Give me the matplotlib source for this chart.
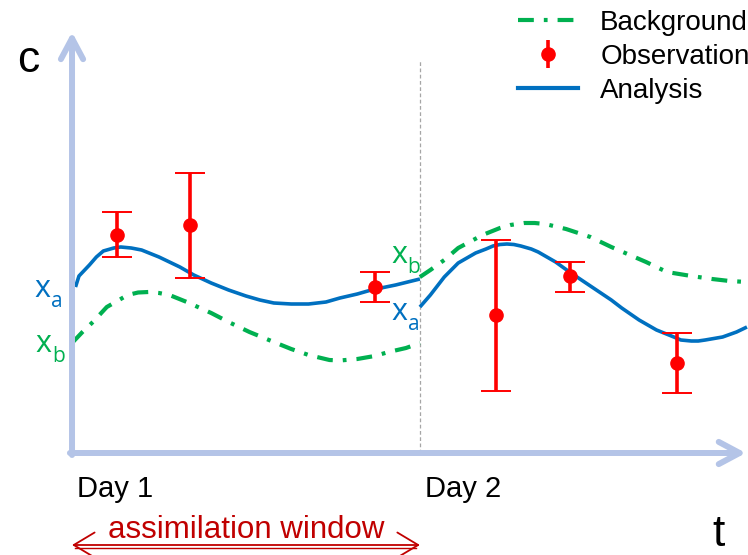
"""
Schematic of a data-assimilation window: background and analysis
trajectories over two days, with observations and their error bars.
"""

import matplotlib
matplotlib.use("Agg")
import matplotlib.pyplot as plt
from matplotlib.lines import Line2D

# -------------------------------------------------
# Data (time in days, concentration in arbitrary units)
# -------------------------------------------------

analysis_t1 = [0.01, 0.02, 0.05, 0.07, 0.09, 0.12, 0.14, 0.17, 0.20, 0.25, 0.31,
               0.35, 0.40, 0.45, 0.50, 0.54, 0.58, 0.63, 0.68, 0.73, 0.77, 0.82,
               0.86, 0.93, 1.00]
analysis_c1 = [1.66, 1.77, 1.88, 1.96, 2.02, 2.05, 2.06, 2.05, 2.03, 1.96, 1.86,
               1.78, 1.70, 1.63, 1.57, 1.53, 1.50, 1.49, 1.49, 1.51, 1.55, 1.59,
               1.63, 1.68, 1.74]

analysis_t2 = [1.00, 1.03, 1.07, 1.11, 1.16, 1.19, 1.21, 1.23, 1.25, 1.27, 1.29,
               1.32, 1.34, 1.39, 1.43, 1.49, 1.55, 1.58, 1.63, 1.68, 1.73, 1.75,
               1.78, 1.80, 1.82, 1.87, 1.91, 1.94]
analysis_c2 = [1.46, 1.58, 1.76, 1.90, 2.00, 2.04, 2.07, 2.085, 2.09, 2.085, 2.07,
               2.04, 2.01, 1.91, 1.81, 1.67, 1.53, 1.45, 1.33, 1.23, 1.16, 1.13,
               1.12, 1.12, 1.13, 1.16, 1.21, 1.26]

background_t1 = [0.00, 0.03, 0.06, 0.10, 0.16, 0.19, 0.22, 0.25, 0.28, 0.33,
                 0.40, 0.45, 0.51, 0.58, 0.63, 0.68, 0.74, 0.77, 0.82, 0.87,
                 0.91, 0.96, 1.00]
background_c1 = [1.10, 1.21, 1.31, 1.46, 1.58, 1.605, 1.61, 1.60, 1.58, 1.51,
                 1.40, 1.31, 1.21, 1.11, 1.04, 0.98, 0.93, 0.925, 0.94, 0.97,
                 1.01, 1.05, 1.10]

background_t2 = [1.00, 1.03, 1.07, 1.11, 1.18, 1.23, 1.26, 1.30, 1.33, 1.36,
                 1.42, 1.49, 1.55, 1.59, 1.65, 1.71, 1.78, 1.84, 1.89, 1.94]
background_c2 = [1.76, 1.83, 1.93, 2.05, 2.18, 2.25, 2.28, 2.30, 2.30, 2.29,
                 2.24, 2.16, 2.06, 2.00, 1.91, 1.81, 1.77, 1.74, 1.72, 1.71]

obs_t = [0.13, 0.34, 0.87, 1.22, 1.43, 1.74]
obs_c = [2.18, 2.28, 1.66, 1.38, 1.77, 0.90]
obs_hi = [2.41, 2.80, 1.81, 2.13, 1.91, 1.20]
obs_lo = [1.96, 1.75, 1.51, 0.62, 1.61, 0.60]

legend_labels = ["Background", "Observation", "Analysis"]
day_labels = ["Day 1", "Day 2"]
day_ticks = [0.0, 1.0]

# -------------------------------------------------
# Styles
# -------------------------------------------------

BLUE = "#0070C0"
GREEN = "#00B050"
RED = "#FF0000"
DARK_RED = "#C00000"
AXIS = "#B4C4E7"
FONT = ["Liberation Sans", "DejaVu Sans"]
SUB_FONT = ["Open Sans", "DejaVu Sans"]

plt.rcParams["font.family"] = FONT

fig = plt.figure(figsize=(7.48, 5.55), dpi=100)
ax = fig.add_axes([0, 0, 1, 1])
ax.set_xlim(-0.207, 1.943)
ax.set_ylim(-1.02, 4.53)
ax.axis("off")

# axes drawn as thick light-blue arrows
arrow_kw = dict(arrowstyle="->,head_length=0.75,head_width=0.4",
                color=AXIS, lw=4.3, capstyle="round", joinstyle="round",
                mutation_scale=20, shrinkA=0, shrinkB=0)
ax.annotate("", xy=(0, 4.21), xytext=(0, -0.02), arrowprops=arrow_kw)
ax.annotate("", xy=(1.937, 0), xytext=(-0.006, 0), arrowprops=arrow_kw)

# day boundary
ax.plot([1.0, 1.0], [0, 3.93], color="#A6A6A6", lw=0.9,
        ls=(0, (3, 2)), zorder=1)

# background trajectories (dash-dot)
bg_dash = (0, (3.8, 2.4, 0.9, 2.4))
for t, c in [(background_t1, background_c1), (background_t2, background_c2)]:
    ax.plot(t, c, color=GREEN, lw=3, ls=bg_dash, dash_joinstyle="round")

# analysis trajectories
for t, c in [(analysis_t1, analysis_c1), (analysis_t2, analysis_c2)]:
    ax.plot(t, c, color=BLUE, lw=2.6, solid_capstyle="butt",
            solid_joinstyle="round")

# observations with error bars
err_low = [c - lo for c, lo in zip(obs_c, obs_lo)]
err_high = [hi - c for c, hi in zip(obs_c, obs_hi)]
ax.errorbar(obs_t, obs_c, yerr=[err_low, err_high], fmt="o", color=RED,
            ms=9.5, elinewidth=2.6, capsize=11, capthick=1.4, zorder=5)


def state_label(x, y, sub, color):
    """Write x with a subscript (a or b) at the start of a trajectory."""
    ax.text(x, y, "x", color=color, fontsize=22, ha="left", va="baseline",
            family=SUB_FONT)
    ax.text(x + 0.047, y - 0.10, sub, color=color, fontsize=15, ha="left",
            va="baseline", family=SUB_FONT)


state_label(-0.107, 1.56, "a", BLUE)
state_label(-0.104, 1.01, "b", GREEN)
state_label(0.918, 1.90, "b", GREEN)
state_label(0.918, 1.33, "a", BLUE)

# axis letters and day labels
ax.text(-0.157, 3.81, "c", fontsize=32, ha="left", va="baseline")
ax.text(1.842, -0.93, "t", fontsize=32, ha="left", va="baseline")
for d, lab in zip(day_ticks, day_labels):
    ax.text(d + 0.014, -0.44, lab, fontsize=21, ha="left", va="baseline")

# assimilation window arrow
ax.annotate("", xy=(0, -0.92), xytext=(1.0, -0.92),
            arrowprops=dict(arrowstyle="<->,head_length=0.75,head_width=0.45",
                            color=DARK_RED, lw=1.3, mutation_scale=20,
                            shrinkA=0, shrinkB=0))
ax.plot([0.01, 0.99], [-0.945, -0.945], color=DARK_RED, lw=1.0)
ax.text(0.5, -0.855, "assimilation window", color=DARK_RED, fontsize=22.5,
        ha="center", va="baseline")

# legend
handles = [
    Line2D([], [], color=GREEN, lw=3, ls=bg_dash),
    ax.errorbar([], [], yerr=[], fmt="o", color=RED, ms=9.5, elinewidth=2.6,
                capsize=11, capthick=1.4),
    Line2D([], [], color=BLUE, lw=3),
]
ax.legend(handles, legend_labels, loc="upper left",
          bbox_to_anchor=(518 / 748, 1 - 10 / 555), frameon=False,
          fontsize=20, handlelength=2.16, handletextpad=0.8,
          labelspacing=0.28, borderpad=0, borderaxespad=0)

fig.savefig("out.png", dpi=100)
